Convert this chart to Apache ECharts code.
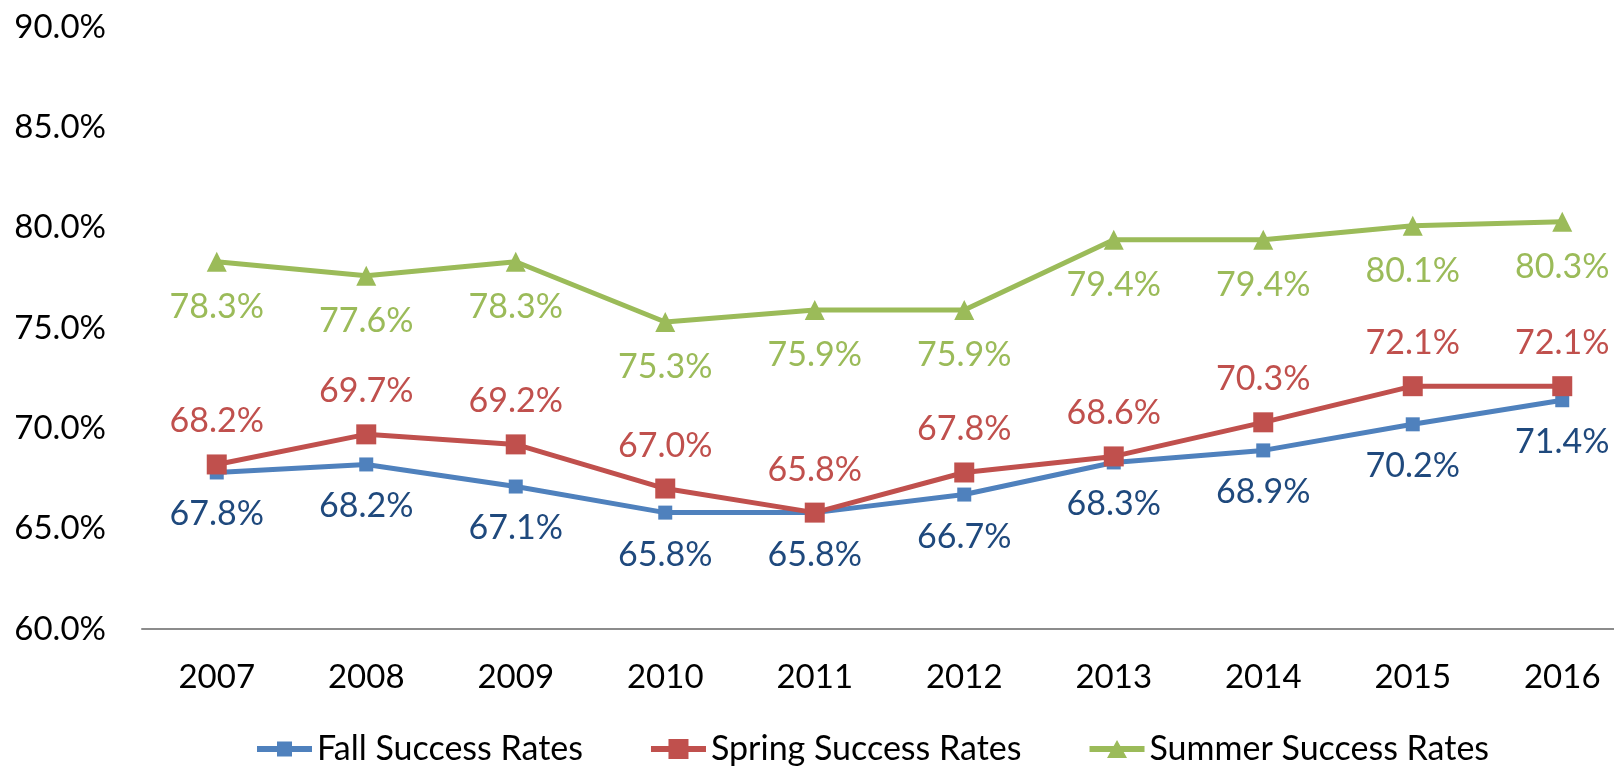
<!DOCTYPE html>
<html><head><meta charset="utf-8">
<script src="https://cdn.jsdelivr.net/npm/echarts@6/dist/echarts.min.js"></script>
<style>html,body{margin:0;padding:0;background:#fff;overflow:hidden;width:1614px;height:771px}#c{width:1640px;height:771px}</style>
</head><body><div id="c"></div>
<script>
const years = ['2007','2008','2009','2010','2011','2012','2013','2014','2015','2016'];
const fall = [67.8, 68.2, 67.1, 65.8, 65.8, 66.7, 68.3, 68.9, 70.2, 71.4];
const spring = [68.2, 69.7, 69.2, 67.0, 65.8, 67.8, 68.6, 70.3, 72.1, 72.1];
const summer = [78.3, 77.6, 78.3, 75.3, 75.9, 75.9, 79.4, 79.4, 80.1, 80.3];
const seriesNames = ['Fall Success Rates', 'Spring Success Rates', 'Summer Success Rates'];
const yTicks = { min: 60, max: 90, step: 5 };

const FONT = 'Lato';
const fmt = p => p.value.toFixed(1) + '%';

// legend icons: line with marker
const icons = [
  'path://M0,7H20V2.5H35V7H55V13H35V17.5H20V13H0Z',
  'path://M0,7H17.5V0H37.5V7H55V13H37.5V20H17.5V13H0Z',
  'path://M0,7H24.17L27.5,1L30.83,7H55V13H34.17L37.5,19H17.5L20.83,13H0Z'
];

function mk(name, data, color, labelColor, symbol, size, pos, dist) {
  return {
    name, type: 'line', data, symbol, symbolSize: size,
    lineStyle: { color, width: 5 },
    itemStyle: { color },
    label: { show: true, position: pos, distance: dist, color: labelColor, fontFamily: FONT, fontSize: 34, formatter: fmt },
    z: 3
  };
}

const chart = echarts.init(document.getElementById('c'));
chart.setOption({
  animation: false,
  backgroundColor: '#fff',
  grid: { left: 142, right: 3, top: 27, height: 602, containLabel: false },
  xAxis: {
    type: 'category', data: years, boundaryGap: true,
    axisLine: { lineStyle: { color: '#8c8c8c', width: 2 } },
    axisTick: { show: false },
    axisLabel: { color: '#000', fontFamily: FONT, fontSize: 33, margin: 32 }
  },
  yAxis: {
    type: 'value', min: yTicks.min, max: yTicks.max, interval: yTicks.step,
    axisLine: { show: false }, axisTick: { show: false },
    splitLine: { show: false },
    axisLabel: { color: '#000', fontFamily: FONT, fontSize: 33, margin: 36, formatter: v => v.toFixed(1) + '%' }
  },
  legend: {
    left: 252, top: 727, itemGap: 68, itemWidth: 55, itemHeight: 20,
    symbolKeepAspect: true,
    textStyle: { color: '#000', fontFamily: FONT, fontSize: 34 },
    data: seriesNames.map((n, i) => ({ name: n, icon: icons[i] }))
  },
  series: [
    mk(seriesNames[0], fall, '#4F81BD', '#1F497D', 'rect', 14, 'bottom', 18),
    mk(seriesNames[1], spring, '#C0504D', '#C0504D', 'rect', 20, 'top', 16),
    mk(seriesNames[2], summer, '#9BBB59', '#9BBB59', 'triangle', 20, 'bottom', 18)
  ]
});
</script></body></html>
